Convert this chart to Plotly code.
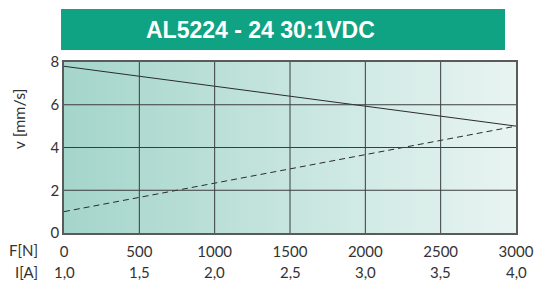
import plotly.graph_objects as go

title = "AL5224 - 24 30:1VDC"
y_title = "v [mm/s]"
force_N = [0, 3000]
speed_v = [7.8, 5.0]
current_scaled = [1.0, 5.0]   # current curve plotted on v-axis scale

f_ticks = [0, 500, 1000, 1500, 2000, 2500, 3000]
i_labels = ["1,0", "1,5", "2,0", "2,5", "3,0", "3,5", "4,0"]
y_ticks = [0, 2, 4, 6, 8]

FONT = "Lato, 'Open Sans', sans-serif"
TXT = "#333333"
GRID = "#3c3c3c"

fig = go.Figure()

# gradient background for plot area
fig.add_trace(go.Scatter(
    x=[0, 3000, 3000, 0, 0], y=[0, 0, 8, 8, 0], mode="lines",
    line=dict(width=0), fill="toself",
    fillgradient=dict(type="horizontal",
                      colorscale=[[0, "#a4d5cb"], [0.5, "#c6e5de"], [1, "#e8f4f2"]]),
    hoverinfo="skip", showlegend=False))

fig.add_trace(go.Scatter(x=force_N, y=speed_v, mode="lines",
                         line=dict(color="#2b2b2b", width=1), showlegend=False))
fig.add_trace(go.Scatter(x=force_N, y=current_scaled, mode="lines",
                         line=dict(color="#2b2b2b", width=1, dash="6px,4px"), showlegend=False))

fig.update_layout(
    width=536, height=284,
    margin=dict(l=64, r=20, t=62, b=51),
    paper_bgcolor="white", plot_bgcolor="white",
    font=dict(family=FONT, size=15, color=TXT),
    showlegend=False,
)
fig.update_xaxes(range=[0, 3000], tickvals=f_ticks, ticktext=[str(v) for v in f_ticks],
                 showgrid=False, automargin=False, ticklabelstandoff=4,
                 showline=True, linecolor="#5a5a5a", linewidth=1.5, mirror=True,
                 zeroline=False, ticks="", tickfont=dict(size=15, color=TXT))
fig.update_yaxes(range=[0, 8], tickvals=y_ticks, showgrid=False, automargin=False,
                 showline=True, linecolor="#5a5a5a", linewidth=1.5, mirror=True,
                 zeroline=False, ticks="", tickfont=dict(size=15, color=TXT))

# y-axis title
fig.add_annotation(xref="paper", yref="paper", x=-0.1, y=0.67, textangle=-90,
                   xanchor="center", yanchor="middle", text=y_title, showarrow=False,
                   font=dict(size=16, color=TXT))

# grid lines drawn above the gradient fill
for xv in f_ticks[1:-1]:
    fig.add_shape(type="line", xref="x", yref="paper", x0=xv, x1=xv, y0=0, y1=1,
                  line=dict(color=GRID, width=1), layer="above")
for yv in y_ticks[1:-1]:
    fig.add_shape(type="line", xref="paper", yref="y", x0=0, x1=1, y0=yv, y1=yv,
                  line=dict(color=GRID, width=1), layer="above")

# title banner
fig.add_shape(type="rect", xref="paper", yref="paper",
              x0=-0.0066, x1=0.9757, y0=1.070, y1=1.31,
              fillcolor="#10a383", line=dict(width=0), layer="below")
fig.add_annotation(xref="paper", yref="paper", x=0.434, y=1.19, yanchor="middle",
                   xanchor="center", text="<b>" + title + "</b>",
                   showarrow=False, font=dict(family="Liberation Sans, Arial, sans-serif",
                                              size=23, color="white"))

# second row of x tick labels (current)
for xv, lab in zip(f_ticks, i_labels):
    fig.add_annotation(x=xv, xref="x", y=0, yref="paper", yshift=-39, yanchor="middle",
                       xanchor="center", text=lab,
                       showarrow=False, font=dict(size=15, color=TXT))
fig.add_annotation(xref="paper", yref="paper", x=-0.053, y=0, yshift=-17, xanchor="right",
                   yanchor="middle", text="F[N]", showarrow=False, font=dict(size=15, color=TXT))
fig.add_annotation(xref="paper", yref="paper", x=-0.053, y=0, yshift=-39, xanchor="right",
                   yanchor="middle", text="I[A]", showarrow=False, font=dict(size=15, color=TXT))

fig.write_html("out.html", config={"displayModeBar": False},
               post_script="document.body.style.margin='0';document.body.style.overflow='hidden';")
